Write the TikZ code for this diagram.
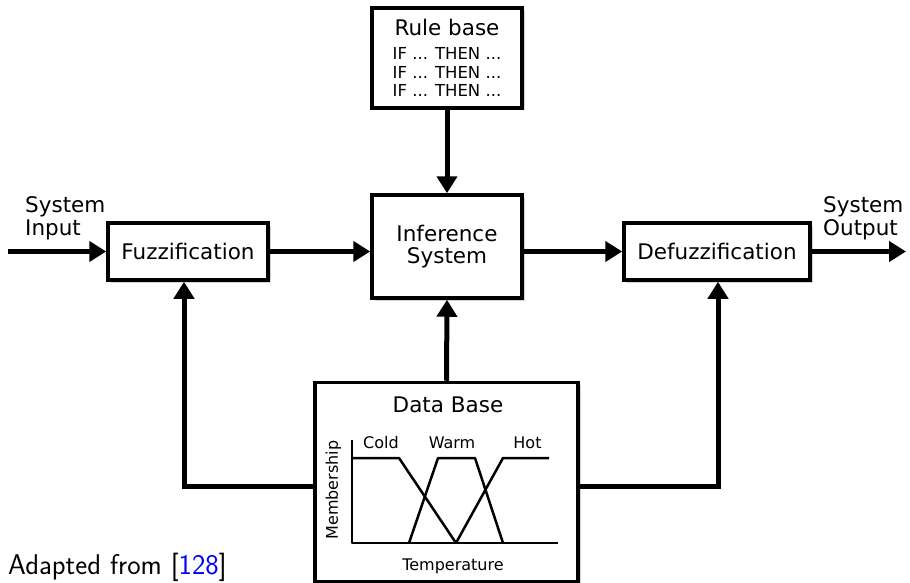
\documentclass[tikz,border=0pt]{standalone}
\usepackage{fontspec}
\setmainfont{DejaVu Sans}
\usepackage{xcolor}
\usetikzlibrary{arrows.meta,positioning,calc,shadows}

\begin{document}
\begin{tikzpicture}[
  x=1pt, y=-1pt,
  block/.style={draw=black, line width=3.5pt, fill=white, inner sep=0pt, align=center,
    font=\fontsize{21.5}{22}\selectfont,
    drop shadow={shadow xshift=2.5pt, shadow yshift=-2.5pt, opacity=0.35}},
  flow/.style={line width=5pt, -{Triangle[length=17pt, width=20pt]}},
  curve/.style={line width=2.5pt, line join=round},
  plabel/.style={font=\fontsize{16}{18}\selectfont, inner sep=0pt},
  iolabel/.style={font=\fontsize{21.5}{23}\selectfont, align=left, inner sep=0pt}
]
  \useasboundingbox (0,0) rectangle (910,583);
  % blocks
  \node[block, minimum width=150pt, minimum height=100pt, font=\fontsize{16.5}{18.5}\selectfont] (rule) at (447,58)
    {{\fontsize{21.5}{22}\selectfont Rule base}\\[5.5pt]IF ... THEN ...\\IF ... THEN ...\\IF ... THEN ...};
  \node[block, minimum width=150pt, minimum height=103pt] (inf) at (447,246.5) {Inference\\System};
  \node[block, minimum width=160pt, minimum height=57pt] (fuzz) at (188,251.5) {Fuzzification};
  \node[block, minimum width=186pt, minimum height=57pt] (defuzz) at (717,251.5) {Defuzzification};
  \node[block, minimum width=263pt, minimum height=199pt] (data) at (446.5,482) {};
  % data base content
  \node[font=\fontsize{21.5}{22}\selectfont, inner sep=0pt, anchor=base] (dtitle) at (448,412) {Data Base};
  \draw[curve] (352,440) -- (352,543) -- (558,543);
  \draw[curve] (352,458) -- (399,458) -- (456,543);
  \draw[curve] (409,543) -- (438,458) -- (475,458) -- (503,543);
  \draw[curve] (456,543) -- (503,458) -- (549,458);
  \foreach \lbl/\xx in {Cold/381,Warm/452,Hot/527.5}
    \node[plabel, anchor=base] (l\lbl) at (\xx,448) {\lbl};
  \node[plabel, anchor=base] (ltemp) at (453,570) {Temperature};
  \node[plabel, rotate=90] (lmem) at (333.5,490) {Membership};
  % inputs and outputs
  \coordinate (sin) at (8,251.5);
  \coordinate (sout) at (906,251.5);
  \node[iolabel, anchor=base west] (tin) at (25,235) {System\\Input};
  \node[iolabel, anchor=base west] (tout) at (823,235) {System\\Output};
  % connectors
  \draw[flow] (sin) -- (fuzz.west);
  \draw[flow] (fuzz.east) -- (fuzz.east -| inf.west);
  \draw[flow] (inf.east |- defuzz.west) -- (defuzz.west);
  \draw[flow] (defuzz.east) -- (sout);
  \draw[flow] (rule.south) -- (inf.north);
  \draw[flow] (data.north) -- (inf.south);
  \coordinate (fl) at (184,486);
  \coordinate (fr) at (718,486);
  \draw[flow] (data.west |- fl) -| (fuzz.south -| fl);
  \draw[flow] (data.east |- fr) -| (defuzz.south -| fr);
  % source note
  \node[font=\sffamily\fontsize{28.5}{30}\selectfont, anchor=base west, inner sep=0pt] (note) at (8,574)
    {Adapted from [\textcolor{blue}{128}]};
\end{tikzpicture}
\end{document}
